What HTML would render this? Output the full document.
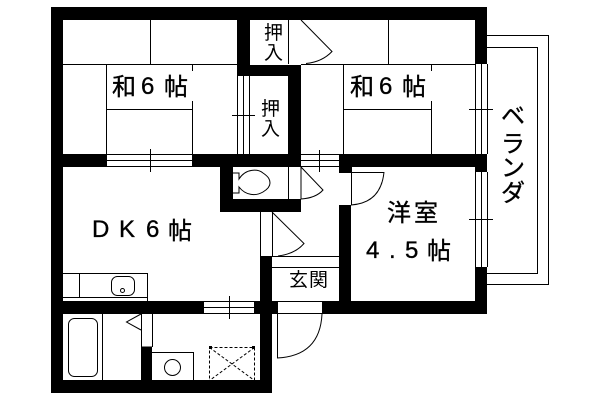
<!DOCTYPE html>
<html><head><meta charset="utf-8"><style>
html,body{margin:0;padding:0;background:#fff;width:600px;height:400px;overflow:hidden}
svg{display:block}
text{font-family:"Liberation Sans","Noto Sans CJK JP",sans-serif;fill:#000}
.l{stroke:#000;stroke-width:1;fill:none}
.b text{stroke:#000;stroke-width:.35}
</style></head><body>
<svg width="600" height="400" viewBox="0 0 600 400" xmlns="http://www.w3.org/2000/svg">
<rect width="600" height="400" fill="#fff"/>
<!-- thin lines -->
<g class="l" shape-rendering="crispEdges">
<!-- left tatami -->
<path d="M63 64.500H237M150.500 20V64M106.500 64V154M192.500 64V71M192.500 101V154M107 109.500H193"/>
<!-- right tatami -->
<path d="M301 64.500H475M388.500 20V64M343.500 64V154M431.500 64V71M431.500 101V154M343 109.500H431"/>
<!-- closet -->
<path d="M288.500 20V64"/>
<!-- window closet -->
<path d="M237.500 76V154M243.500 76V154M249.500 76V154M232 115.500H255"/>
<!-- window 1 -->
<path d="M107 154.500H193M107 160.500H193M107 166.500H193M150.500 149V172"/>
<!-- window 2 -->
<path d="M301 154.500H339M301 160.500H339M301 166.500H339M319.500 150V172"/>
<!-- right windows -->
<path d="M475.500 64V154M481.500 64V154M487.500 64V154M469 109.500H493"/>
<path d="M475.500 172V267M481.500 172V267M487.500 172V267M469 219.500H493"/>
<!-- balcony -->
<path d="M487 35.500H548.500V284.500H487M487 47.500H537.500V273.500H487"/>
<!-- toilet door jambs -->
<path d="M288.500 167V199M301 167V199"/>
<!-- genkan door jamb -->
<path d="M260.500 212V256M272.500 212V256"/>
<!-- genkan -->
<path d="M272 256.500H339M272 267.500H339"/>
<!-- western door -->
<path d="M339 172.500H351M339 205.500H351M351.500 167V205M351 172.500H384"/>
<!-- entrance -->
<path d="M277 301.500H322M277 313.500H322M277.500 314V358"/>
<!-- window 3 -->
<path d="M204 301.500H254M204 307.500H254M204 313.500H254M229.500 296V319"/>
<!-- kitchen -->
<path d="M63 273.500H147.500V301M79.500 273V297M63 297.500H147"/>
<!-- bath -->
<path d="M102.500 314V380M141.500 314V347M152.500 314V347M141 347H152"/>
<path d="M152 352.500H193.500V380"/>
</g>
<g class="l">
<path d="M301 20L332 51.500Q322 62 306 63.500"/>
<path d="M301 167L323 190Q316 198 301 199"/>
<path d="M272 212L304 243.500Q295 254 278 256"/>
<path d="M384 172Q381 203 351 205"/>
<path d="M277 358Q320 356 322 314"/>
<path d="M141 314L126.500 322L141 330"/>
<path d="M233 173H239V179C246 168 258 169 263 173C269 177 270 180 270 183C270 186 268 189 263 192C256 196 246 196 239 187V193H233"/>
</g>
<rect x="68.500" y="318.500" width="29" height="58" rx="6" class="l"/>
<rect x="111.500" y="276.500" width="23" height="19" rx="6" class="l"/>
<circle cx="122.500" cy="290.500" r="2" class="l"/>
<circle cx="172.500" cy="367.500" r="8" class="l"/>
<g class="l" stroke-dasharray="3 2">
<rect x="209.500" y="347.500" width="45" height="33" shape-rendering="crispEdges"/>
<path d="M209.500 347.500L254.500 380.500M254.500 347.500L209.500 380.500"/>
</g>
<path d="M209 346h3v3h-3zM252 346h3v3h-3z" fill="#000"/>
<!-- walls -->
<g fill="#000" shape-rendering="crispEdges">
<rect x="51" y="7" width="436" height="13"/>
<rect x="51" y="7" width="12" height="386"/>
<rect x="475" y="7" width="12" height="57"/>
<rect x="237" y="7" width="13" height="69"/>
<rect x="237" y="65" width="64" height="11"/>
<rect x="288" y="65" width="13" height="102"/>
<rect x="51" y="154" width="56" height="13"/>
<rect x="192" y="154" width="109" height="13"/>
<rect x="339" y="154" width="148" height="13"/>
<rect x="339" y="154" width="12" height="18"/>
<rect x="475" y="154" width="12" height="18"/>
<rect x="220" y="167" width="13" height="45"/>
<rect x="220" y="199" width="81" height="13"/>
<rect x="339" y="205" width="12" height="109"/>
<rect x="475" y="267" width="12" height="47"/>
<rect x="322" y="301" width="165" height="13"/>
<rect x="51" y="301" width="153" height="13"/>
<rect x="254" y="301" width="24" height="13"/>
<rect x="260" y="256" width="12" height="137"/>
<rect x="51" y="380" width="221" height="13"/>
<rect x="141" y="347" width="11" height="33"/>
</g>
<!-- labels -->
<g font-size="24" class="b">
<text x="112" y="95">和</text><text x="141" y="94">6</text><text x="164" y="95">帖</text>
<text x="350" y="95">和</text><text x="379" y="94">6</text><text x="402" y="95">帖</text>
<text x="92" y="237">D</text><text x="119" y="237">K</text><text x="146" y="237">6</text><text x="168" y="239">帖</text>
<text x="387" y="221">洋</text><text x="414" y="221">室</text>
<text x="366" y="258">4</text><text x="389" y="258">.</text><text x="405" y="258">5</text><text x="427" y="259">帖</text>
<text x="501" y="124">ベ</text><text x="501" y="152">ラ</text><text x="501" y="176">ン</text><text x="501" y="201">ダ</text>
</g>
<g font-size="19">
<text x="264" y="39">押</text><text x="264" y="59">入</text>
<text x="261" y="115">押</text><text x="261" y="135">入</text>
<text x="289" y="286">玄</text><text x="309" y="286">関</text>
</g>
</svg>
</body></html>
